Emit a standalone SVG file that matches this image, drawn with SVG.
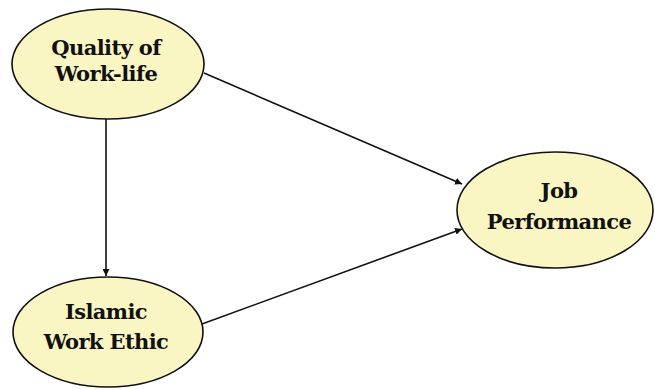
<svg xmlns="http://www.w3.org/2000/svg" width="655" height="389" viewBox="0 0 655 389">
<style>
.node ellipse{fill:#FAF6C4;stroke:#111;stroke-width:1.6}
.node text{font-family:'DejaVu Serif','Liberation Serif',serif;font-weight:700;font-size:21px;fill:#111;text-anchor:middle;letter-spacing:-0.6px}
.edge{stroke:#111;stroke-width:1.6;fill:none;marker-end:url(#arr)}
</style>
<defs>
<marker id="arr" viewBox="0 0 10 10" refX="10" refY="5" markerWidth="7" markerHeight="7" markerUnits="userSpaceOnUse" orient="auto">
<path d="M0,0 L10,5 L0,10 z" fill="#111"/>
</marker>
</defs>
<rect width="655" height="389" fill="#fff"/>
<g id="connectors">
<line class="edge" x1="204" y1="73" x2="462" y2="184"/>
<line class="edge" x1="106" y1="119" x2="106" y2="276"/>
<line class="edge" x1="202" y1="324" x2="462" y2="229"/>
</g>
<g id="quality" class="node">
<ellipse cx="108" cy="64" rx="96" ry="55"/>
<text x="106" y="55">Quality of</text>
<text x="106" y="81">Work-life</text>
</g>
<g id="islamic" class="node">
<ellipse cx="108" cy="332" rx="95" ry="55"/>
<text x="106" y="319">Islamic</text>
<text x="106" y="349">Work Ethic</text>
</g>
<g id="job" class="node">
<ellipse cx="555" cy="210" rx="98" ry="58"/>
<text x="559" y="198">Job</text>
<text x="559" y="229">Performance</text>
</g>
</svg>
